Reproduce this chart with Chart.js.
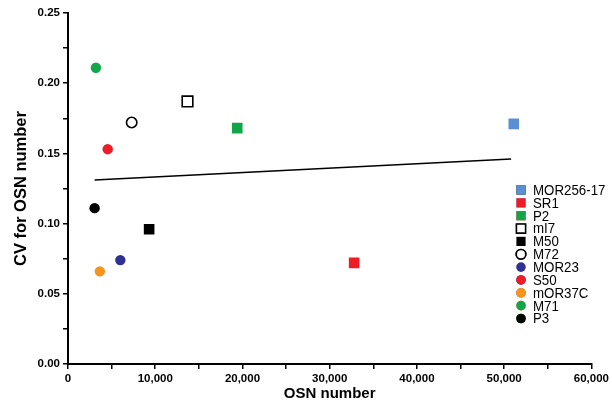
<!DOCTYPE html>
<html>
<head>
<meta charset="utf-8">
<script src="https://cdn.jsdelivr.net/npm/chart.js@4"></script>
<style>
  html, body { margin: 0; padding: 0; background: #fff; }
  #wrap { width: 612px; height: 405px; }
</style>
</head>
<body>
<div id="wrap"><canvas id="cvPlot" width="612" height="405"></canvas></div>
<script>
// values
const receptors = ["MOR256-17", "SR1", "P2", "mI7", "M50", "M72", "MOR23", "S50", "mOR37C", "M71", "P3"];
const osnNumber = [51100, 32800, 19400, 13700, 9300, 7300, 6000, 4550, 3650, 3200, 3050];
const cvOsn = [0.171, 0.072, 0.168, 0.187, 0.096, 0.172, 0.074, 0.153, 0.066, 0.211, 0.111];
const fitX = [3050, 50800];
const fitY = [0.131, 0.146];

// look of each marker
const fills = ["#5b8fd3", "#ee1c25", "#12a64b", "#ffffff", "#000000", "#ffffff", "#2e3192", "#ee1c25", "#f7941d", "#12a64b", "#000000"];
const shapes = ["rect", "rect", "rect", "rect", "rect", "circle", "circle", "circle", "circle", "circle", "circle"];
const openOnes = [false, false, false, true, false, true, false, false, false, false, false];

const pts = receptors.map((name, i) => ({
  type: "scatter",
  label: name,
  data: [{ x: osnNumber[i], y: cvOsn[i] }],
  pointStyle: shapes[i],
  pointRadius: shapes[i] === "rect" ? 7.5 : 5.2,
  pointBackgroundColor: fills[i],
  pointBorderColor: openOnes[i] ? "#000" : fills[i],
  pointBorderWidth: openOnes[i] ? 1.6 : 0,
}));

const fitLine = {
  type: "line",
  label: "fit",
  data: fitX.map((x, i) => ({ x: x, y: fitY[i] })),
  borderColor: "#000",
  borderWidth: 1.6,
  pointRadius: 0,
  fill: false,
};

// legend sits inside the plot, so draw it by hand
const sideLegend = {
  id: "sideLegend",
  afterDraw(chart) {
    const ctx = chart.ctx;
    ctx.save();
    ctx.font = "14px 'Liberation Sans', Arial, sans-serif";
    ctx.textBaseline = "middle";
    receptors.forEach((name, i) => {
      const y = 190 + i * 12.85;
      const ds = pts[i];
      Chart.helpers.drawPoint(ctx, {
        pointStyle: ds.pointStyle,
        radius: ds.pointStyle === "rect" ? 6.5 : 4.8,
        borderWidth: ds.pointBorderWidth,
        rotation: 0,
      }, 521, y);
      ctx.fillStyle = ds.pointBackgroundColor;
      ctx.strokeStyle = ds.pointBorderColor;
      ctx.lineWidth = ds.pointBorderWidth;
      ctx.fill();
      if (ds.pointBorderWidth) ctx.stroke();
      ctx.save();
      ctx.translate(533, y + 1);
      ctx.scale(0.95, 1);
      ctx.fillStyle = "#000";
      ctx.fillText(name, 0, 0);
      ctx.restore();
    });
    ctx.restore();
  }
};

const tickFont = { family: "'Liberation Sans', Arial, sans-serif", size: 11.5, weight: "bold" };

new Chart(document.getElementById("cvPlot"), {
  data: { datasets: [...pts, fitLine] },
  options: {
    responsive: false,
    animation: false,
    layout: { padding: { top: 13, right: 17, left: 0, bottom: 0 } },
    plugins: { legend: { display: false }, tooltip: { enabled: false } },
    scales: {
      x: {
        type: "linear",
        min: 0, max: 60000,
        ticks: {
          stepSize: 5000,
          color: "#000",
          font: tickFont,
          padding: 3,
          maxRotation: 0,
          autoSkip: false,
          callback: v => (v % 10000 === 0 ? v.toLocaleString("en-US") : ""),
        },
        grid: { drawOnChartArea: false, drawTicks: true, tickLength: 5, color: "#000", lineWidth: 1.5 },
        border: { color: "#000", width: 2 },
        title: { display: true, text: "OSN number", color: "#000",
          font: { family: "'Liberation Sans', Arial, sans-serif", size: 15, weight: "bold" },
          padding: { top: 1, bottom: 2 } },
        afterFit: s => { s.height = 41; },
      },
      y: {
        type: "linear",
        min: 0, max: 0.25,
        ticks: {
          stepSize: 0.025,
          color: "#000",
          font: tickFont,
          padding: 3,
          autoSkip: false,
          callback: v => (Math.round(v * 1000) % 50 === 0 ? v.toFixed(2) : ""),
        },
        grid: { drawOnChartArea: false, drawTicks: true, tickLength: 5, color: "#000", lineWidth: 1.5 },
        border: { color: "#000", width: 2 },
        title: { display: true, text: "CV for OSN number", color: "#000",
          font: { family: "'Liberation Sans', Arial, sans-serif", size: 16.5, weight: "bold" },
          padding: { top: 12, bottom: 6 } },
        afterFit: s => { s.width = 68; },
      },
    },
  },
  plugins: [sideLegend],
});
</script>
</body>
</html>
